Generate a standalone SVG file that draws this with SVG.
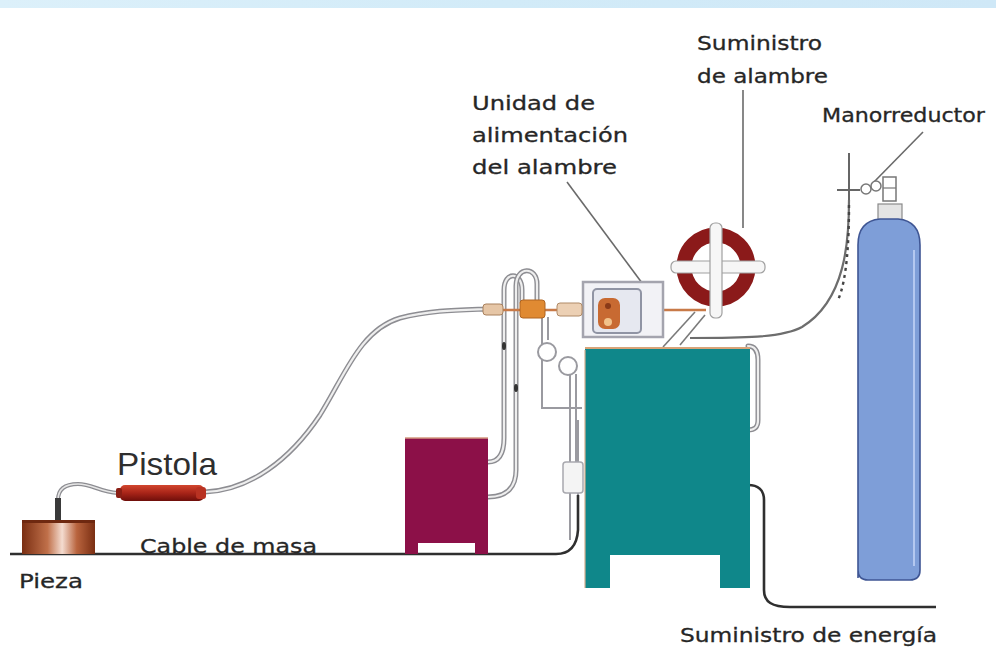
<svg xmlns="http://www.w3.org/2000/svg" width="996" height="649" viewBox="0 0 996 649">
  <defs>
    <linearGradient id="gPieza" x1="0" y1="0" x2="1" y2="0">
      <stop offset="0" stop-color="#7a2e12"/>
      <stop offset="0.35" stop-color="#c0704a"/>
      <stop offset="0.55" stop-color="#f4dcd0"/>
      <stop offset="0.75" stop-color="#b9643e"/>
      <stop offset="1" stop-color="#7a2e12"/>
    </linearGradient>
    <linearGradient id="gGun" x1="0" y1="0" x2="0" y2="1">
      <stop offset="0" stop-color="#d2462e"/>
      <stop offset="0.5" stop-color="#a82418"/>
      <stop offset="1" stop-color="#6e0e0a"/>
    </linearGradient>
    <linearGradient id="gBand" x1="0" y1="0" x2="1" y2="0">
      <stop offset="0" stop-color="#dcf0fa"/>
      <stop offset="0.5" stop-color="#d2ebf8"/>
      <stop offset="1" stop-color="#cfe8f7"/>
    </linearGradient>
  </defs>
  <style>
    .lbl { font-family: "DejaVu Sans", Verdana, sans-serif; font-size: 20px; fill: #262626; stroke: #262626; stroke-width: 0.3; }
    .lead { stroke: #6a6a6a; stroke-width: 1.6; fill: none; }
    .tubeOut { stroke: #8d8d92; stroke-width: 5; fill: none; stroke-linecap: round; }
    .tubeIn { stroke: #eeeeee; stroke-width: 2.2; fill: none; stroke-linecap: round; }
    .cable { stroke: #2f2f2f; stroke-width: 2.6; fill: none; }
    .pipe { stroke: #9a9aa0; stroke-width: 2; fill: none; }
  </style>

  <!-- background -->
  <rect x="0" y="0" width="996" height="649" fill="#ffffff"/>
  <rect x="0" y="0" width="996" height="8" fill="url(#gBand)"/>

  <!-- cables and hoses -->
  <g id="connectors">
    <!-- ground cable -->
    <path class="cable" d="M10,554 L556,554 C570,554 577,545 578,530 L578,495"/>
    <!-- torch hose -->
    <path class="tubeOut" d="M205,492 C250,490 290,460 320,415 C345,375 360,330 400,318 C430,310 460,310 488,309"/>
    <path class="tubeIn" d="M205,492 C250,490 290,460 320,415 C345,375 360,330 400,318 C430,310 460,310 488,309"/>
    <!-- torch to workpiece -->
    <path d="M118,493 C100,492 92,484 78,484 C64,484 58,490 58,500" stroke="#8d8d92" stroke-width="4" fill="none"/>
    <path d="M118,493 C100,492 92,484 78,484 C64,484 58,490 58,500" stroke="#e6e6e6" stroke-width="1.6" fill="none"/>
    <!-- cooling hoses -->
    <path class="tubeOut" d="M488,462 C500,462 504,452 504,438 L504,290 C504,271 522,271 522,290 L522,302"/>
    <path class="tubeIn" d="M488,462 C500,462 504,452 504,438 L504,290 C504,271 522,271 522,290 L522,302"/>
    <path class="tubeOut" d="M488,497 C508,497 516,486 516,470 L516,286 C516,266 537,266 537,284 L537,302"/>
    <path class="tubeIn" d="M488,497 C508,497 516,486 516,470 L516,286 C516,266 537,266 537,284 L537,302"/>
    <ellipse cx="504" cy="346" rx="2" ry="4" fill="#333"/>
    <ellipse cx="516" cy="388" rx="2" ry="4" fill="#333"/>
    <!-- gas pipes with gauges -->
    <path class="pipe" d="M542,317 L542,408 L582,408"/>
    <path class="pipe" d="M548,317 L548,340"/>
    <path class="pipe" d="M570,374 L570,540"/>
    <path class="pipe" d="M576,374 L576,462"/>
    <path class="pipe" d="M578,495 L578,420"/>
    <circle cx="547" cy="352" r="9" fill="#ffffff" stroke="#9a9aa0" stroke-width="2"/>
    <circle cx="568" cy="366" r="9" fill="#ffffff" stroke="#9a9aa0" stroke-width="2"/>
    <rect x="563" y="462" width="20" height="31" rx="3" fill="#f4f4f4" stroke="#a8a8ae" stroke-width="1.5"/>
    <!-- wire line -->
    <line x1="483" y1="310" x2="706" y2="310" stroke="#c87a48" stroke-width="2.5"/>
    <!-- wire guides -->
    <line x1="663" y1="347" x2="695" y2="312" stroke="#7a7a7a" stroke-width="1.6"/>
    <line x1="680" y1="345" x2="705" y2="315" stroke="#7a7a7a" stroke-width="1.6"/>
    <!-- gas hose -->
    <path d="M849,200 C849,240 846,300 802,327 C782,338 740,338 690,338" stroke="#6d6d6d" stroke-width="2.2" fill="none"/>
    <path d="M849,205 C849,240 847,280 838,300" stroke="#444" stroke-width="2.4" stroke-dasharray="3 4" fill="none"/>
    <!-- power cable -->
    <path class="cable" d="M748,485 C758,485 764,490 764,500 L764,590 C764,602 772,607 790,607 L936,607"/>
    <!-- right side hose on machine -->
    <path class="tubeOut" d="M748,346 C756,346 758,352 758,360 L758,420 C758,428 754,430 748,430"/>
    <path class="tubeIn" d="M748,346 C756,346 758,352 758,360 L758,420 C758,428 754,430 748,430"/>
    <!-- leader lines -->
    <line class="lead" x1="567" y1="182" x2="645" y2="287"/>
    <line class="lead" x1="743" y1="90" x2="743" y2="228"/>
    <line class="lead" x1="923" y1="132" x2="873" y2="183"/>
  </g>

  <!-- workpiece -->
  <g id="pieza">
    <rect x="22" y="520" width="73" height="34" fill="url(#gPieza)"/>
    <rect x="22" y="520" width="73" height="3" fill="#6e2810"/>
    <rect x="55" y="498" width="6" height="22" fill="#3a3a3a"/>
  </g>

  <!-- welding torch -->
  <g id="pistola">
    <rect x="120" y="485" width="84" height="16" rx="5" fill="url(#gGun)"/>
    <rect x="116" y="488" width="6" height="10" rx="2" fill="#8a1e14"/>
    <rect x="196" y="487" width="10" height="12" rx="3" fill="#b83222"/>
  </g>

  <!-- cooling unit -->
  <g id="refrigerador">
    <path d="M405,438 L488,438 L488,554 L475,554 L475,543 L418,543 L418,554 L405,554 Z" fill="#8c1048"/>
    <line x1="405" y1="438" x2="488" y2="438" stroke="#d49a80" stroke-width="1.5"/>
  </g>

  <!-- power source -->
  <g id="fuente">
    <path d="M585,348 L750,348 L750,588 L720,588 L720,555 L610,555 L610,588 L585,588 Z" fill="#0f878a"/>
    <line x1="585" y1="348" x2="750" y2="348" stroke="#d8a478" stroke-width="2"/>
    <line x1="585" y1="350" x2="585" y2="588" stroke="#d8b090" stroke-width="1.2"/>
  </g>

  <!-- wire feeder -->
  <g id="alimentador">
    <rect x="583" y="282" width="80" height="55" fill="#f2f2f6" stroke="#a4a4ae" stroke-width="2.5"/>
    <rect x="593" y="289" width="48" height="44" rx="4" fill="#e6e8f0" stroke="#9094a4" stroke-width="2"/>
    <rect x="598" y="298" width="22" height="31" rx="7" fill="#c86a32"/>
    <circle cx="608" cy="322" r="4" fill="#f2c28a"/>
    <circle cx="608" cy="306" r="3" fill="#8a3a18"/>
    <!-- torch connectors -->
    <rect x="483" y="304" width="20" height="11" rx="3" fill="#e6c6a6" stroke="#a8805c" stroke-width="1"/>
    <rect x="520" y="300" width="25" height="18" rx="3" fill="#e08a32" stroke="#b06420" stroke-width="1"/>
    <rect x="557" y="303" width="25" height="13" rx="3" fill="#ecd0b4" stroke="#b08a66" stroke-width="1"/>
  </g>

  <!-- wire spool -->
  <g id="bobina">
    <circle cx="716" cy="267" r="32" fill="none" stroke="#8b1a1a" stroke-width="15"/>
    <rect x="671" y="261" width="94" height="12" rx="5" fill="#f6f6f6" stroke="#a0a0a0" stroke-width="1.2"/>
    <rect x="710" y="223" width="12" height="95" rx="5" fill="#f6f6f6" stroke="#a0a0a0" stroke-width="1.2"/>
  </g>

  <!-- gas cylinder and regulator -->
  <g id="botella">
    <rect x="878" y="204" width="24" height="16" fill="#e4e4e4" stroke="#8a8a8a" stroke-width="1.2"/>
    <path d="M858,578 L858,245 Q858,221 880,219 L898,219 Q920,221 920,245 L920,570 Q920,580 910,580 L868,580 Q858,580 858,570 Z" fill="#7e9ed8" stroke="#3f5694" stroke-width="1.6"/>
    <line x1="914" y1="250" x2="914" y2="566" stroke="#b4c8f0" stroke-width="2"/>
  </g>
  <g id="manorreductor">
    <line x1="849" y1="153" x2="849" y2="200" stroke="#666" stroke-width="2"/>
    <line x1="837" y1="190" x2="860" y2="190" stroke="#666" stroke-width="2"/>
    <circle cx="866" cy="189" r="5" fill="#fff" stroke="#777" stroke-width="1.5"/>
    <circle cx="876" cy="186" r="5" fill="#fff" stroke="#777" stroke-width="1.5"/>
    <rect x="883" y="177" width="13" height="24" fill="#fff" stroke="#777" stroke-width="1.5"/>
    <line x1="883" y1="188" x2="896" y2="188" stroke="#777" stroke-width="1.2"/>
  </g>

  <!-- labels -->
  <g id="labels">
    <text class="lbl" x="697" y="50" textLength="125" lengthAdjust="spacingAndGlyphs">Suministro</text>
    <text class="lbl" x="697" y="83" textLength="131" lengthAdjust="spacingAndGlyphs">de alambre</text>
    <text class="lbl" x="822" y="122" textLength="163" lengthAdjust="spacingAndGlyphs">Manorreductor</text>
    <text class="lbl" x="472" y="110" textLength="123" lengthAdjust="spacingAndGlyphs">Unidad de</text>
    <text class="lbl" x="472" y="142" textLength="156" lengthAdjust="spacingAndGlyphs">alimentación</text>
    <text class="lbl" x="472" y="174" textLength="145" lengthAdjust="spacingAndGlyphs">del alambre</text>
    <text x="117" y="475" font-family="'Liberation Sans', Arial, sans-serif" font-size="32" fill="#2e2e2e" textLength="100" lengthAdjust="spacingAndGlyphs">Pistola</text>
    <text class="lbl" x="140" y="553" textLength="177" lengthAdjust="spacingAndGlyphs">Cable de masa</text>
    <text class="lbl" x="19" y="588" textLength="64" lengthAdjust="spacingAndGlyphs">Pieza</text>
    <text class="lbl" x="680" y="642" textLength="257" lengthAdjust="spacingAndGlyphs">Suministro de energía</text>
  </g>
</svg>
